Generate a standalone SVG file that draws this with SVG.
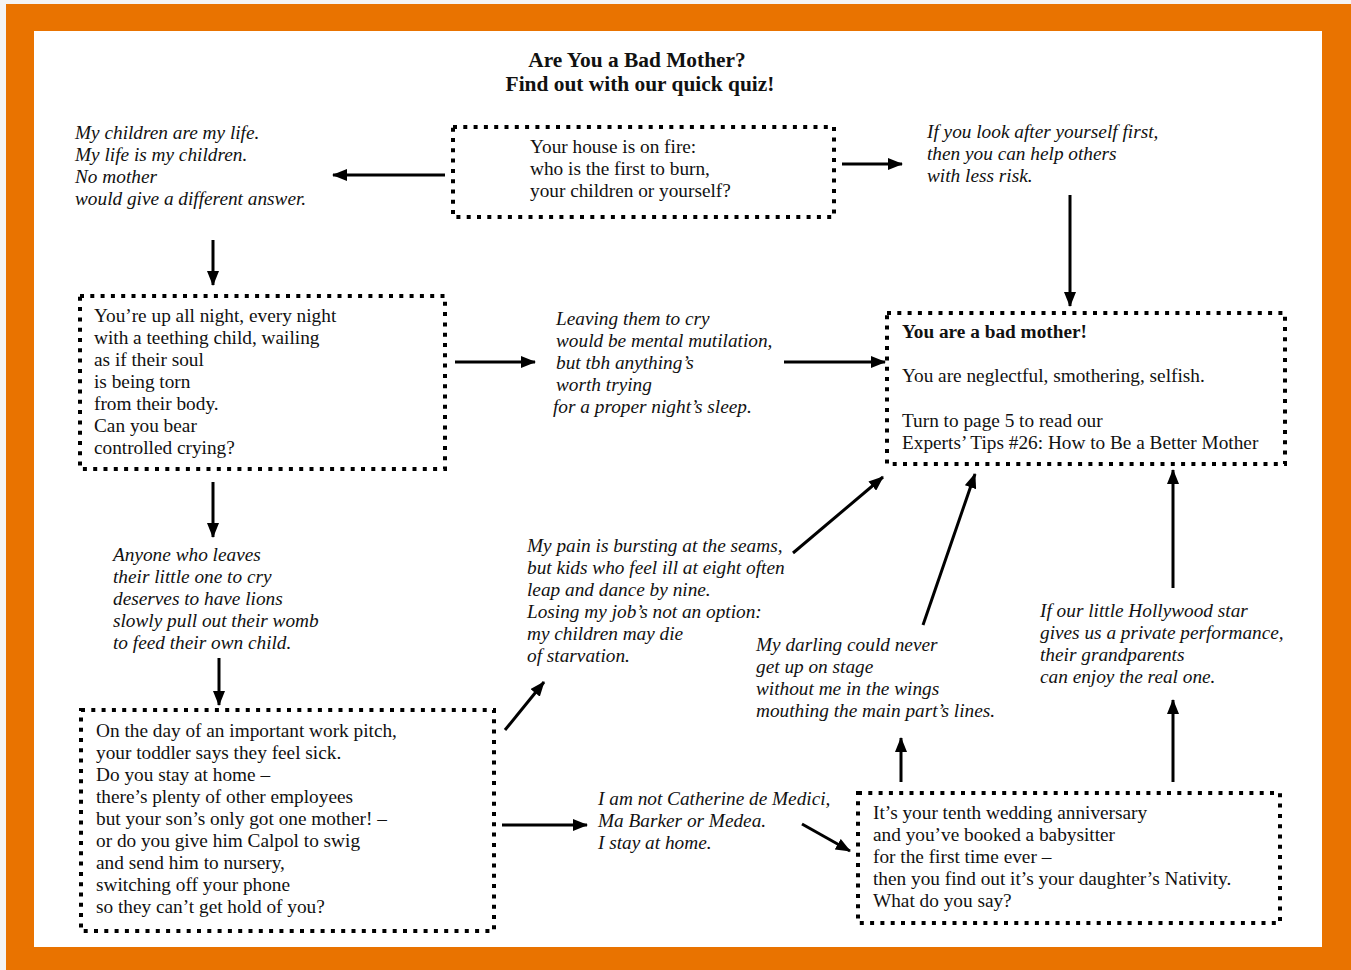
<svg xmlns="http://www.w3.org/2000/svg" width="1351" height="970" viewBox="0 0 1351 970">
<style>
text{font-family:"Liberation Serif","Times New Roman",serif;font-size:19.3px;fill:#111}
.it{font-style:italic}
.b{font-weight:bold}
.t{font-weight:bold;font-size:21.4px}
.box{fill:none;stroke:#000;stroke-width:4;stroke-dasharray:4 6.3}
.ar{stroke:#000;stroke-width:3;fill:none;marker-end:url(#ah)}
</style>
<defs>
<marker id="ah" markerUnits="userSpaceOnUse" markerWidth="15" markerHeight="12" refX="14" refY="6" orient="auto">
<path d="M0,0 L15,6 L0,12 Z" fill="#000"/>
</marker>
</defs>
<rect x="0" y="0" width="1351" height="970" fill="#f4f4f4"/>
<rect x="6" y="4" width="1345" height="966" fill="#e97300"/>
<rect x="34" y="31" width="1288" height="916" fill="#fff"/>

<g id="title">
<text class="t" x="637" y="67" text-anchor="middle">Are You a Bad Mother?</text>
<text class="t" x="640" y="91" text-anchor="middle">Find out with our quick quiz!</text>
</g>

<g id="q-fire">
<rect class="box" x="453" y="127" width="381" height="90"/>
<text x="530" y="153">Your house is on fire:</text>
<text x="530" y="175">who is the first to burn,</text>
<text x="530" y="197">your children or yourself?</text>
</g>

<g id="a-children">
<text class="it" x="75" y="139">My children are my life.</text>
<text class="it" x="75" y="161">My life is my children.</text>
<text class="it" x="75" y="183">No mother</text>
<text class="it" x="75" y="205">would give a different answer.</text>
</g>

<g id="a-yourself">
<text class="it" x="927" y="138">If you look after yourself first,</text>
<text class="it" x="927" y="160">then you can help others</text>
<text class="it" x="927" y="182">with less risk.</text>
</g>

<g id="q-night">
<rect class="box" x="80" y="296" width="365" height="173"/>
<text x="94" y="322">You’re up all night, every night</text>
<text x="94" y="344">with a teething child, wailing</text>
<text x="94" y="366">as if their soul</text>
<text x="94" y="388">is being torn</text>
<text x="94" y="410">from their body.</text>
<text x="94" y="432">Can you bear</text>
<text x="94" y="454">controlled crying?</text>
</g>

<g id="a-cry">
<text class="it" x="556" y="325">Leaving them to cry</text>
<text class="it" x="556" y="347">would be mental mutilation,</text>
<text class="it" x="556" y="369">but tbh anything’s</text>
<text class="it" x="556" y="391">worth trying</text>
<text class="it" x="553" y="413">for a proper night’s sleep.</text>
</g>

<g id="result">
<rect class="box" x="887" y="313" width="398" height="151"/>
<text class="b" x="902" y="338">You are a bad mother!</text>
<text x="902" y="382">You are neglectful, smothering, selfish.</text>
<text x="902" y="427">Turn to page 5 to read our</text>
<text x="902" y="449">Experts’ Tips #26: How to Be a Better Mother</text>
</g>

<g id="a-lions">
<text class="it" x="113" y="561">Anyone who leaves</text>
<text class="it" x="113" y="583">their little one to cry</text>
<text class="it" x="113" y="605">deserves to have lions</text>
<text class="it" x="113" y="627">slowly pull out their womb</text>
<text class="it" x="113" y="649">to feed their own child.</text>
</g>

<g id="q-pitch">
<rect class="box" x="81" y="710" width="413" height="221"/>
<text x="96" y="737">On the day of an important work pitch,</text>
<text x="96" y="759">your toddler says they feel sick.</text>
<text x="96" y="781">Do you stay at home –</text>
<text x="96" y="803">there’s plenty of other employees</text>
<text x="96" y="825">but your son’s only got one mother! –</text>
<text x="96" y="847">or do you give him Calpol to swig</text>
<text x="96" y="869">and send him to nursery,</text>
<text x="96" y="891">switching off your phone</text>
<text x="96" y="913">so they can’t get hold of you?</text>
</g>

<g id="a-pain">
<text class="it" x="527" y="552">My pain is bursting at the seams,</text>
<text class="it" x="527" y="574">but kids who feel ill at eight often</text>
<text class="it" x="527" y="596">leap and dance by nine.</text>
<text class="it" x="527" y="618">Losing my job’s not an option:</text>
<text class="it" x="527" y="640">my children may die</text>
<text class="it" x="527" y="662">of starvation.</text>
</g>

<g id="a-medici">
<text class="it" x="598" y="805">I am not Catherine de Medici,</text>
<text class="it" x="598" y="827">Ma Barker or Medea.</text>
<text class="it" x="598" y="849">I stay at home.</text>
</g>

<g id="a-darling">
<text class="it" x="756" y="651">My darling could never</text>
<text class="it" x="756" y="673">get up on stage</text>
<text class="it" x="756" y="695">without me in the wings</text>
<text class="it" x="756" y="717">mouthing the main part’s lines.</text>
</g>

<g id="a-hollywood">
<text class="it" x="1040" y="617">If our little Hollywood star</text>
<text class="it" x="1040" y="639">gives us a private performance,</text>
<text class="it" x="1040" y="661">their grandparents</text>
<text class="it" x="1040" y="683">can enjoy the real one.</text>
</g>

<g id="q-anniversary">
<rect class="box" x="858" y="793" width="422" height="130"/>
<text x="873" y="819">It’s your tenth wedding anniversary</text>
<text x="873" y="841">and you’ve booked a babysitter</text>
<text x="873" y="863">for the first time ever –</text>
<text x="873" y="885">then you find out it’s your daughter’s Nativity.</text>
<text x="873" y="907">What do you say?</text>
</g>

<g id="connectors">
<line class="ar" x1="445" y1="175" x2="333" y2="175"/>
<line class="ar" x1="842" y1="164" x2="902" y2="164"/>
<line class="ar" x1="213" y1="240" x2="213" y2="285"/>
<line class="ar" x1="1070" y1="195" x2="1070" y2="306"/>
<line class="ar" x1="455" y1="362" x2="535" y2="362"/>
<line class="ar" x1="784" y1="362" x2="885" y2="362"/>
<line class="ar" x1="213" y1="482" x2="213" y2="537"/>
<line class="ar" x1="219" y1="658" x2="219" y2="705"/>
<line class="ar" x1="505" y1="730" x2="544" y2="682"/>
<line class="ar" x1="793" y1="553" x2="883" y2="477"/>
<line class="ar" x1="923" y1="625" x2="975" y2="474"/>
<line class="ar" x1="1173" y1="588" x2="1173" y2="470"/>
<line class="ar" x1="901" y1="782" x2="901" y2="738"/>
<line class="ar" x1="1173" y1="782" x2="1173" y2="700"/>
<line class="ar" x1="502" y1="825" x2="587" y2="825"/>
<line class="ar" x1="802" y1="824" x2="850" y2="851"/>
</g>
</svg>
